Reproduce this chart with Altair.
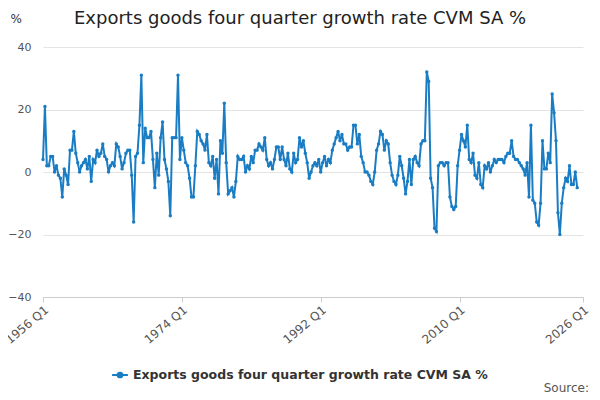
import altair as alt
import pandas as pd

vals = [
4,21,2,2, 5,5,0,2, -1,-2,-8,1, -1,-4,7,7, 13,6,3,0, 2,3,4,1, 5,-3,4,3, 7,5,6,9,
5,4,0,2, 3,2,9,8, 5,1,3,6, 7,7,-1,-16, 5,6,15,31, 3,14,11,11, 13,4,-5,6, -1,11,16,4,
1,-3,-14,11, 11,11,31,4, 11,7,3,2, -2,-8,-8,2, 13,12,10,9, 7,12,3,2, 5,-2,4,-7,
10,6,22,3, -7,-6,-5,-8, -3,5,4,4, 5,0,2,1, 5,3,7,7, 9,8,7,11, 4,2,3,1, 4,8,8,4,
8,4,2,6, 1,0,6,3, 4,11,8,10, 6,3,-2,0, 2,3,2,4, 0,3,5,2, 4,3,7,9, 11,13,10,12,
9,9,7,8, 8,15,15,9, 12,5,3,0, 0,-1,-3,-4, 0,7,9,13, 12,7,10,9, 3,-1,-3,-4,
-1,5,2,-2, -7,-3,4,-4, 4,5,3,2, 9,10,10,32, 29,-2,-5,-18, -19,2,3,3, 2,3,3,-8,
-11,-12,-11,2, 7,12,10,8, 15,4,3,6, -1,-2,3,-4, -5,2,1,3, 0,2,4,3, 4,4,4,3,
5,6,6,10, 5,4,4,3, 2,1,-1,3, -8,15,-9,-10, -16,-17,-10,10, 1,1,6,3, 25,19,10,-13,
-20,-10,-5,-2, -3,2,-4,-4, 0,-5,
]
t = [1956 + i/4 for i in range(len(vals))]
label = [f"{1956 + i//4} Q{i%4+1}" for i in range(len(vals))]
series = "Exports goods four quarter growth rate CVM SA %"
df = pd.DataFrame({"t": t, "v": vals, "q": label, "s": series})

F = "DejaVu Sans"
C = "#1a7dc4"
chart = alt.Chart(df).mark_line(
    point=alt.OverlayMarkDef(size=12, filled=True), strokeWidth=2
).encode(
    x=alt.X("t:Q", scale=alt.Scale(domain=[1956, 2026], nice=False),
            axis=alt.Axis(values=[1956, 1974, 1992, 2010, 2026], title=None, grid=False,
                          labelExpr="datum.value + ' Q1'", labelAngle=320, labelAlign="right",
                          labelBaseline="top", labelFontSize=12, labelColor="#555",
                          domainColor="#ccc", tickColor="#ccc", labelFont=F)),
    y=alt.Y("v:Q", scale=alt.Scale(domain=[-40, 40]),
            axis=alt.Axis(values=[-40, -20, 0, 20, 40], title="%", titleAngle=0,
                          titleAlign="left", titleX=-33, titleY=-22, titleFontWeight="normal",
                          titleFontSize=12, titleColor="#333", titleFont=F,
                          domain=False, ticks=False, gridColor="#e3e3e3", labelPadding=12,
                          labelFontSize=11, labelColor="#555", labelFont=F)),
    color=alt.Color("s:N", scale=alt.Scale(range=[C]),
                    legend=alt.Legend(orient="none", legendX=68, legendY=319, title=None,
                                      labelFontSize=12.5, labelLimit=0,
                                      labelFontWeight="bold", labelColor="#333",
                                      labelFont=F,
                                      symbolType="M-1,0L1,0M0.3,0A0.3,0.3 0 1,1 -0.3,0A0.3,0.3 0 1,1 0.3,0",
                                      symbolSize=250, symbolStrokeWidth=2, symbolFillColor=C)),
    tooltip=["q", "v"],
)

src = alt.Chart(pd.DataFrame({"a": [0]})).mark_text(
    text="Source:", align="right", fontSize=12, color="#555", font=F
).encode(x=alt.value(546), y=alt.value(341))

ttl = alt.Chart(pd.DataFrame({"a": [0]})).mark_text(
    text="Exports goods four quarter growth rate CVM SA %", align="center",
    fontSize=18, color="#222", font=F
).encode(x=alt.value(257), y=alt.value(-28))

out = alt.layer(chart, src, ttl).properties(
    width=540, height=250,
    autosize=alt.AutoSizeParams(type="none"),
    padding={"left": 35, "top": 39, "right": 9, "bottom": 95},
).configure_view(stroke=None)
out.save("out.html", embed_options={"renderer": "svg", "actions": False})
